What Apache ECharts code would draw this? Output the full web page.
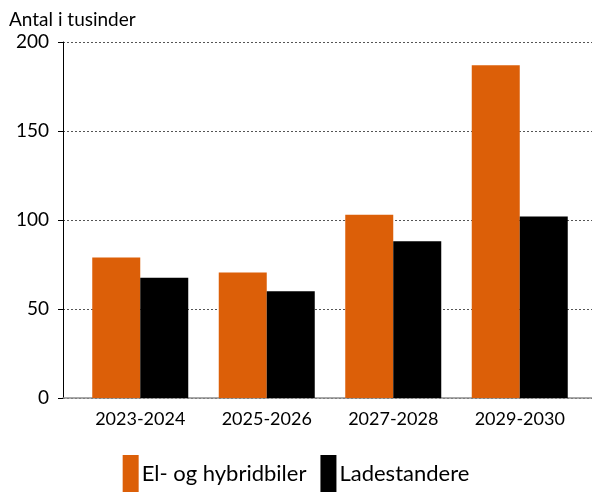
<!DOCTYPE html>
<html>
<head>
<meta charset="utf-8">
<script src="https://cdn.jsdelivr.net/npm/echarts@6/dist/echarts.min.js"></script>
<style>
  html, body { margin: 0; padding: 0; background: #fff; }
  #chart { width: 592px; height: 499px; }
</style>
</head>
<body>
<div id="chart"></div>
<script>
var periods = ["2023-2024", "2025-2026", "2027-2028", "2029-2030"];
var elBiler = [79, 70.5, 103, 187];
var ladestandere = [67.5, 60, 88, 102];
var seriesNames = ["El- og hybridbiler", "Ladestandere"];
var yTicks = { min: 0, max: 200, step: 50 };

var font = "Lato, 'Open Sans', sans-serif";
var chart = echarts.init(document.getElementById("chart"));

var option = {
  animation: false,
  textStyle: { fontFamily: font },
  title: {
    text: "Antal i tusinder",
    left: 4,
    top: 5,
    textStyle: { fontSize: 19, fontWeight: "normal", color: "#000", fontFamily: font }
  },
  legend: {
    bottom: 2,
    left: "center",
    itemWidth: 16,
    itemHeight: 37,
    itemGap: 14,
    icon: "rect",
    textStyle: { fontSize: 22, color: "#000", fontFamily: font, padding: [0, 0, 0, -2] },
    data: seriesNames
  },
  grid: [
    // gridlines + y axis
    { left: 63, right: 0, top: 42, bottom: 101 },
    // bars
    { left: 77, right: 9, top: 42, bottom: 101 }
  ],
  xAxis: [
    {
      gridIndex: 0,
      type: "value",
      min: 0, max: 1,
      axisLine: { show: true, lineStyle: { color: "#8c8c8c", width: 1.5 } },
      axisTick: { show: false },
      axisLabel: { show: false },
      splitLine: { show: false }
    },
    {
      gridIndex: 1,
      type: "category",
      data: periods,
      axisLine: { show: false },
      axisTick: { show: false },
      axisLabel: { fontSize: 18, color: "#000", margin: 12, fontFamily: font }
    }
  ],
  yAxis: [
    {
      gridIndex: 0,
      type: "value",
      min: yTicks.min, max: yTicks.max, interval: yTicks.step,
      axisLine: { show: true, lineStyle: { color: "#000", width: 1 } },
      axisTick: { show: true, length: 5, lineStyle: { color: "#000" } },
      axisLabel: { fontSize: 19, color: "#000", margin: 14, fontFamily: font },
      splitLine: { show: true, lineStyle: { color: "#555", type: [2, 2], width: 1 } }
    },
    {
      gridIndex: 1,
      type: "value",
      min: yTicks.min, max: yTicks.max, interval: yTicks.step,
      show: false,
      splitLine: { show: false }
    }
  ],
  series: [
    {
      name: seriesNames[0],
      type: "bar",
      xAxisIndex: 1, yAxisIndex: 1,
      data: elBiler,
      barWidth: 48,
      barGap: "0%",
      itemStyle: { color: "#dc5f08" }
    },
    {
      name: seriesNames[1],
      type: "bar",
      xAxisIndex: 1, yAxisIndex: 1,
      data: ladestandere,
      barWidth: 48,
      barGap: "0%",
      itemStyle: { color: "#000" }
    }
  ]
};

chart.setOption(option);
</script>
</body>
</html>
